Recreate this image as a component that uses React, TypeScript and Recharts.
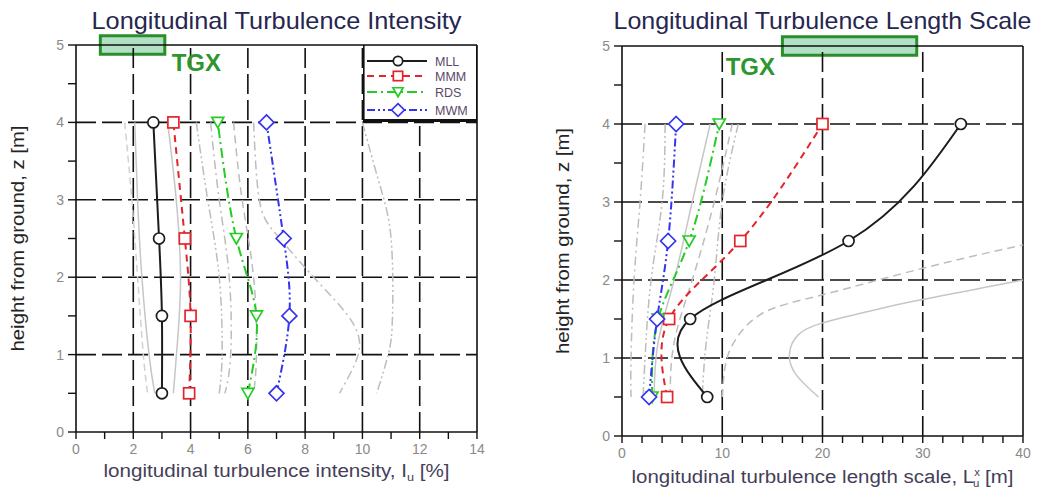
import React from "react";
import {
  ScatterChart,
  Scatter,
  XAxis,
  YAxis,
  ReferenceLine,
  ReferenceArea,
  ReferenceDot,
  Legend,
} from "recharts";

const FONT = '"Liberation Sans", Arial, Helvetica, sans-serif';
const H = 493;

// measurement heights z [m], bottom to top
const HEIGHTS = [0.5, 1.5, 2.5, 4];

// turbulence intensity Iu [%]
const TI_MLL = [3.0, 3.0, 2.9, 2.7];
const TI_MMM = [3.95, 4.0, 3.8, 3.4];
const TI_RDS = [6.0, 6.3, 5.6, 4.95];
const TI_MWM = [7.0, 7.45, 7.25, 6.65];

// length scale Lux [m]
const LS_MLL = [8.5, 6.8, 22.6, 33.8];
const LS_MMM = [4.5, 4.7, 11.8, 20.0];
const LS_RDS = [3.0, 3.6, 6.7, 9.7];
const LS_MWM = [2.7, 3.5, 4.6, 5.4];

// grey reference profiles, [x, z]
const TI_REF_A = [[1.7, 4], [1.95, 3], [2.15, 2], [2.35, 1], [2.5, 0.5]];
const TI_REF_B = [[2.05, 4], [2.15, 3], [2.3, 2], [2.55, 1], [2.75, 0.5]];
const TI_REF_C = [[3.2, 4], [3.5, 3], [3.65, 2], [3.55, 1.2], [3.4, 0.5]];
const TI_REF_D = [[4.2, 4], [4.6, 3], [5.0, 2], [5.1, 1], [5.0, 0.5]];
const TI_REF_E = [[4.7, 4], [5.0, 3], [5.35, 2], [5.4, 1], [5.2, 0.5]];
const TI_REF_F = [[5.5, 4], [5.8, 3], [6.2, 2], [6.3, 1], [6.2, 0.5]];
const TI_REF_G = [[6.2, 4], [6.4, 3], [7.0, 2.55], [8.3, 2], [9.5, 1.5], [9.9, 1.15], [9.7, 0.85], [9.2, 0.5]];
const TI_REF_H = [[10.0, 4], [10.6, 3.2], [11.0, 2.5], [11.05, 1.5], [10.9, 1], [10.5, 0.5]];

const LS_REF_A = [[2.3, 4], [1.8, 3], [1.2, 2], [0.9, 1], [0.9, 0.5]];
const LS_REF_B = [[4.3, 4], [4.0, 3], [2.9, 2], [2.3, 1], [2.1, 0.5]];
const LS_REF_C = [[8.8, 4], [7.0, 3], [5.2, 2], [3.6, 1.2], [3.2, 0.5]];
const LS_REF_D = [[11.0, 4], [9.2, 3], [7.0, 2], [5.2, 1.2], [4.8, 0.5]];
const LS_REF_E = [[11.6, 4], [10.0, 3], [9.2, 2], [8.4, 1.2], [8.0, 0.5]];
const LS_REF_F = [[10.0, 0.5], [10.3, 0.9], [11.3, 1.23], [14.1, 1.58], [20, 1.81], [30, 2.15], [40, 2.45]];
const LS_REF_G = [
  [19.6, 0.5], [17.4, 0.78], [16.7, 1.05], [17.6, 1.3], [20, 1.45],
  [24, 1.58], [28, 1.7], [32, 1.8], [36, 1.9], [40, 2.0],
];

// axes
const TI_TICKS = [0, 1, 2, 3, 4, 5, 6, 7, 8, 9, 10, 11, 12, 13, 14];
const TI_GRID = [2, 4, 6, 8, 10, 12];
const LS_TICKS = [0, 2, 4, 6, 8, 10, 12, 14, 16, 18, 20, 22, 24, 26, 28, 30, 32, 34, 36, 38, 40];
const LS_GRID = [10, 20, 30];
const Z_TICKS = [0, 0.5, 1, 1.5, 2, 2.5, 3, 3.5, 4, 4.5, 5];
const Z_GRID = [1, 2, 3, 4];

const SERIES = [
  { name: "MLL", color: "#1c1c1c", dash: undefined, kind: "circle" },
  { name: "MMM", color: "#e5232b", dash: "7 5", kind: "square" },
  { name: "RDS", color: "#25cc25", dash: "10 4 2 4", kind: "triangle" },
  { name: "MWM", color: "#3434f0", dash: "8 3 2 3 2 3", kind: "diamond" },
];

const GREY = {
  solid: { stroke: "#c6c6c6", strokeDasharray: undefined },
  dash: { stroke: "#bdbdbd", strokeDasharray: "8 5" },
  dashdot: { stroke: "#bdbdbd", strokeDasharray: "9 4 2 4" },
  dashdotdot: { stroke: "#bdbdbd", strokeDasharray: "9 3 2 3 2 3" },
  light: { stroke: "#d2d2d2", strokeDasharray: "7 4" },
};

const toPts = (xs: number[]) => HEIGHTS.map((z, i) => ({ x: xs[i], z }));
const pairs = (p: number[][]) => p.map(([x, z]) => ({ x, z }));

function Marker({ cx, cy, kind, color, s = 1 }: any) {
  const sw = 1.7;
  if (kind === "circle")
    return <circle cx={cx} cy={cy} r={5.5 * s} fill="#fff" stroke={color} strokeWidth={sw} />;
  if (kind === "square")
    return <rect x={cx - 5.5 * s} y={cy - 5.5 * s} width={11 * s} height={11 * s} fill="#fff" stroke={color} strokeWidth={sw} />;
  if (kind === "triangle")
    return (
      <path
        d={`M${cx - 6 * s},${cy - 5 * s}L${cx + 6 * s},${cy - 5 * s}L${cx},${cy + 5.5 * s}Z`}
        fill="#fff"
        stroke={color}
        strokeWidth={sw}
      />
    );
  return (
    <path
      d={`M${cx},${cy - 7.5 * s}L${cx + 7.5 * s},${cy}L${cx},${cy + 7.5 * s}L${cx - 7.5 * s},${cy}Z`}
      fill="#fff"
      stroke={color}
      strokeWidth={sw}
    />
  );
}

const markerShape = (kind: string, color: string) => (p: any) =>
  p.cx == null ? <g /> : <Marker cx={p.cx} cy={p.cy} kind={kind} color={color} />;
const noShape = () => <g />;

const renderLegend = () => (
  <svg width={114} height={77} style={{ display: "block" }}>
    <rect x={0.8} y={0} width={113} height={75} fill="#fff" stroke="#111" strokeWidth={1.6} />
    <line x1={0} y1={75.5} x2={114} y2={75.5} stroke="#111" strokeWidth={3} />
    {SERIES.map((s, i) => {
      const y = [16, 31, 47, 65][i];
      return (
        <g key={s.name}>
          <line x1={4} y1={y} x2={64} y2={y} stroke={s.color} strokeWidth={1.8} strokeDasharray={s.dash} />
          <Marker cx={35} cy={y} kind={s.kind} color={s.color} s={0.85} />
          <text x={72} y={y + 4.5} fontSize={12.5} fontFamily={FONT} fill="#5a4868">
            {s.name}
          </text>
        </g>
      );
    })}
  </svg>
);

const yTitle = (dx: number) => (p: any) => {
  const vb = p.viewBox || {};
  const x = (vb.x ?? 0) + dx;
  const y = (vb.y ?? 0) + (vb.height ?? 0) / 2;
  return (
    <text
      transform={`translate(${x},${y}) rotate(-90)`}
      textAnchor="middle"
      fontSize={18}
      fontFamily={FONT}
      fill="#242424"
      textLength={226}
      lengthAdjust="spacingAndGlyphs"
    >
      height from ground, z [m]
    </text>
  );
};

const xTitle = (dy: number, len: number, parts: React.ReactNode) => (p: any) => {
  const vb = p.viewBox || {};
  return (
    <text
      x={(vb.x ?? 0) + (vb.width ?? 0) / 2}
      y={(vb.y ?? 0) + dy}
      textAnchor="middle"
      fontSize={18}
      fontFamily={FONT}
      fill="#463e58"
      textLength={len}
      lengthAdjust="spacingAndGlyphs"
    >
      {parts}
    </text>
  );
};

function Panel(props: any) {
  const { left, width, margin, xMax, xTicks, labelEvery, xGrid, series, refs, tgxBox, tgxText, title, titleLen, xLabel, xLabelLen, legend, yDx, xDy } = props;
  const plotL = margin.left + 60;
  const plotR = width - margin.right;
  const plotCx = (plotL + plotR) / 2;
  return (
    <div style={{ position: "absolute", left, top: 0, width, height: H }}>
      <ScatterChart width={width} height={H} margin={margin}>
        <XAxis
          type="number"
          dataKey="x"
          domain={[0, xMax]}
          ticks={xTicks}
          interval={0}
          tickFormatter={(v: number) => (v % labelEvery === 0 ? String(v) : "")}
          axisLine={{ stroke: "#111", strokeWidth: 1.6 }}
          tickLine={{ stroke: "#111", strokeWidth: 1.4 }}
          tickSize={7}
          tickMargin={5}
          tick={{ fill: "#8a8a8a", fontSize: 14, fontFamily: FONT }}
          height={50}
          label={xTitle(xDy, xLabelLen, xLabel)}
        />
        <YAxis
          type="number"
          dataKey="z"
          domain={[0, 5]}
          ticks={Z_TICKS}
          interval={0}
          tickFormatter={(v: number) => (Number.isInteger(v) ? String(v) : "")}
          axisLine={{ stroke: "#111", strokeWidth: 1.6 }}
          tickLine={{ stroke: "#111", strokeWidth: 1.4 }}
          tickSize={8}
          tickMargin={4}
          tick={{ fill: "#8a8a8a", fontSize: 14, fontFamily: FONT }}
          width={60}
          label={yTitle(yDx)}
        />
        {xGrid.map((v: number) => (
          <ReferenceLine key={"gx" + v} x={v} stroke="#111" strokeWidth={1.6} strokeDasharray="20 6" />
        ))}
        {Z_GRID.map((v) => (
          <ReferenceLine key={"gz" + v} y={v} stroke="#111" strokeWidth={1.6} strokeDasharray="20 6" />
        ))}
        <ReferenceLine x={xMax} stroke="#111" strokeWidth={1.6} />
        <ReferenceLine y={5} stroke="#111" strokeWidth={1.6} />
        {refs.map((r: any, i: number) => (
          <Scatter
            key={"ref" + i}
            data={pairs(r.pts)}
            shape={noShape}
            line={{ stroke: r.style.stroke, strokeWidth: 1.5, strokeDasharray: r.style.strokeDasharray }}
            lineJointType="natural"
            isAnimationActive={false}
            legendType="none"
          />
        ))}
        {SERIES.map((s, i) => (
          <Scatter
            key={s.name}
            name={s.name}
            data={toPts(series[i])}
            fill={s.color}
            shape={markerShape(s.kind, s.color)}
            line={{ stroke: s.color, strokeWidth: 2, strokeDasharray: s.dash }}
            lineJointType="natural"
            isAnimationActive={false}
          />
        ))}
        <ReferenceArea
          x1={tgxBox[0]}
          x2={tgxBox[1]}
          y1={4.88}
          y2={5.12}
          ifOverflow="visible"
          fill="#9fd8b6"
          fillOpacity={0.8}
          stroke="#2a8f2a"
          strokeWidth={3}
        />
        <ReferenceDot
          x={tgxText[0]}
          y={tgxText[1]}
          r={0}
          ifOverflow="visible"
          label={{ value: "TGX", position: "center", fill: "#2e962e", fontSize: 24, fontWeight: "bold", fontFamily: FONT }}
        />
        {legend && (
          <Legend
            layout="horizontal"
            verticalAlign="middle"
            align="center"
            content={renderLegend}
            wrapperStyle={{ position: "absolute", left: plotR - 114, top: margin.top, width: 114, height: 77 }}
          />
        )}
      </ScatterChart>
      <svg style={{ position: "absolute", left: 0, top: 0, pointerEvents: "none" }} width={width} height={40}>
        <text
          x={plotCx}
          y={29}
          textAnchor="middle"
          fontFamily={FONT}
          fontSize={24}
          fill="#262650"
          textLength={titleLen}
          lengthAdjust="spacingAndGlyphs"
        >
          {title}
        </text>
      </svg>
    </div>
  );
}

export default function App() {
  return (
    <div style={{ position: "absolute", left: 0, top: 0, width: 1038, height: H, background: "#fff" }}>
      <Panel
        left={0}
        width={520}
        margin={{ top: 45, right: 43, left: 16, bottom: 11 }}
        xMax={14}
        xTicks={TI_TICKS}
        labelEvery={2}
        xGrid={TI_GRID}
        series={[TI_MLL, TI_MMM, TI_RDS, TI_MWM]}
        refs={[
          { pts: TI_REF_A, style: GREY.light },
          { pts: TI_REF_B, style: GREY.solid },
          { pts: TI_REF_C, style: GREY.solid },
          { pts: TI_REF_D, style: GREY.dashdotdot },
          { pts: TI_REF_E, style: GREY.dashdot },
          { pts: TI_REF_F, style: GREY.dash },
          { pts: TI_REF_G, style: GREY.dashdot },
          { pts: TI_REF_H, style: GREY.dashdotdot },
        ]}
        tgxBox={[0.85, 3.1]}
        tgxText={[4.2, 4.77]}
        title="Longitudinal Turbulence Intensity"
        titleLen={370}
        legend
        yDx={8}
        xDy={45}
        xLabelLen={346}
        xLabel={
          <>
            <tspan>longitudinal turbulence intensity, I</tspan>
            <tspan dy={4} fontSize={11}>u</tspan>
            <tspan dy={-4}> [%]</tspan>
          </>
        }
      />
      <Panel
        left={520}
        width={518}
        margin={{ top: 46, right: 15, left: 42, bottom: 7 }}
        xMax={40}
        xTicks={LS_TICKS}
        labelEvery={10}
        xGrid={LS_GRID}
        series={[LS_MLL, LS_MMM, LS_RDS, LS_MWM]}
        refs={[
          { pts: LS_REF_A, style: GREY.dashdot },
          { pts: LS_REF_B, style: GREY.dashdotdot },
          { pts: LS_REF_C, style: GREY.solid },
          { pts: LS_REF_D, style: GREY.dash },
          { pts: LS_REF_E, style: GREY.dashdotdot },
          { pts: LS_REF_F, style: GREY.dash },
          { pts: LS_REF_G, style: GREY.solid },
        ]}
        tgxBox={[16.0, 29.4]}
        tgxText={[12.8, 4.74]}
        title="Longitudinal Turbulence Length Scale"
        titleLen={418}
        legend={false}
        yDx={7}
        xDy={47}
        xLabelLen={382}
        xLabel={
          <>
            <tspan>longitudinal turbulence length scale, L</tspan>
            <tspan dy={-7} fontSize={10}>x</tspan>
            <tspan dx={-6} dy={11} fontSize={10}>u</tspan>
            <tspan dy={-4}> [m]</tspan>
          </>
        }
      />
    </div>
  );
}
